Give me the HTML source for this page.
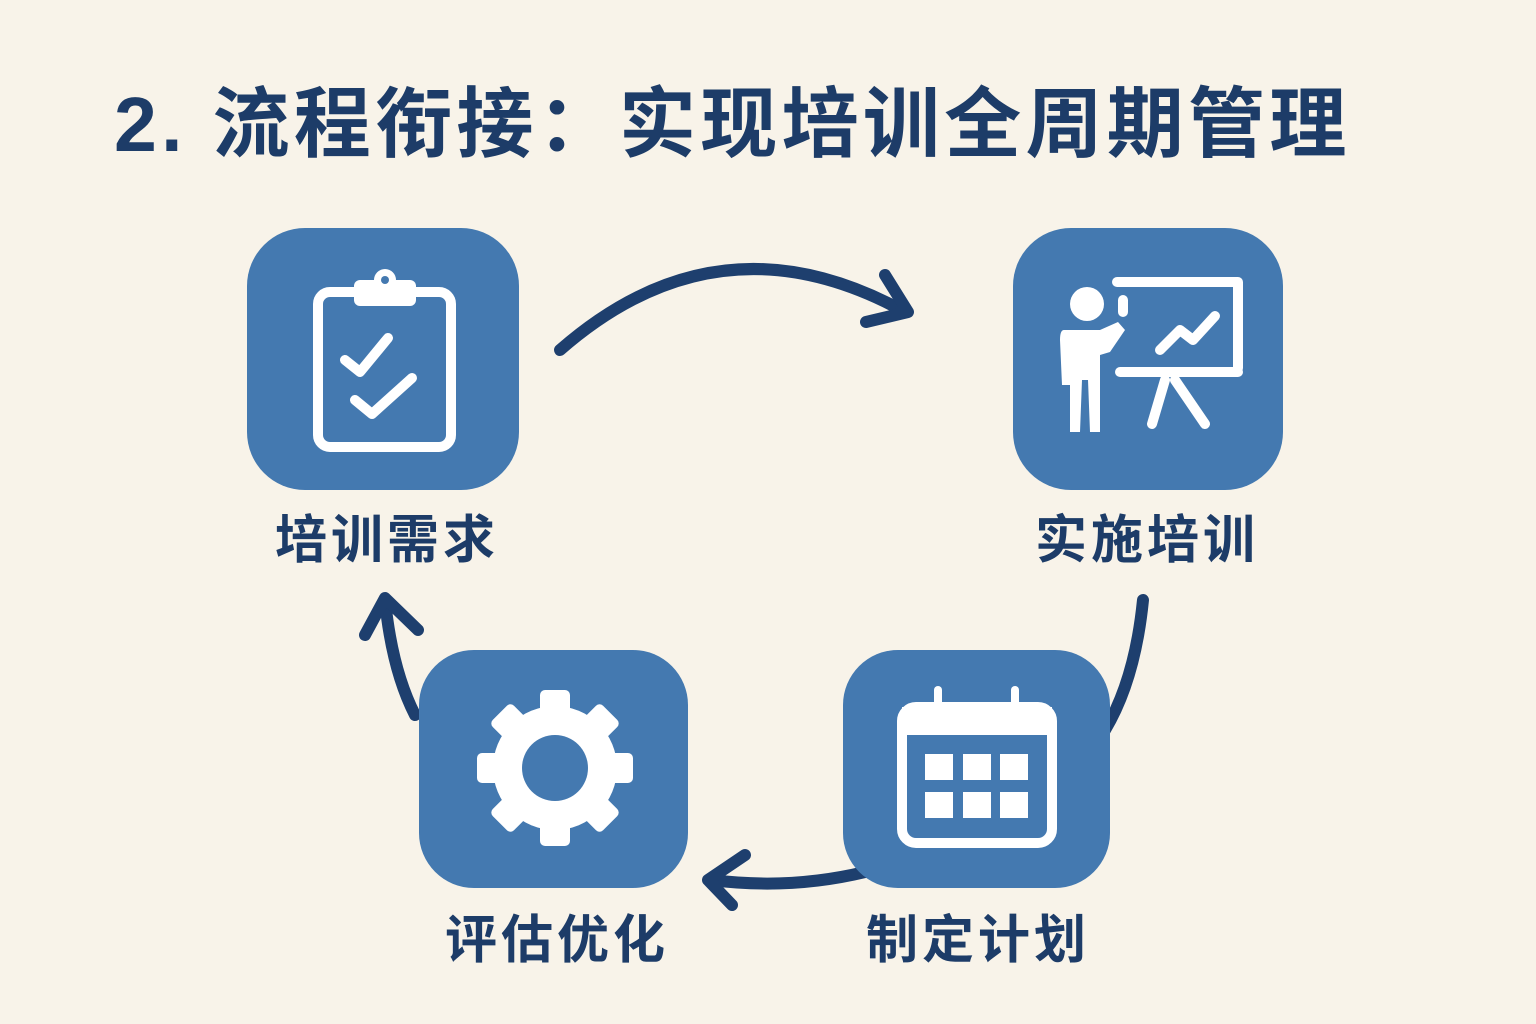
<!DOCTYPE html>
<html><head><meta charset="utf-8"><style>
html,body{margin:0;padding:0;width:1536px;height:1024px;background:#f8f3e9;overflow:hidden}
svg{display:block}
text{font-family:"Liberation Sans","Noto Sans CJK SC",sans-serif;font-weight:bold;fill:#1d3c68}
</style></head><body>
<svg width="1536" height="1024" viewBox="0 0 1536 1024">
<text x="114" y="151" font-size="77" letter-spacing="4.3">2. 流程衔接：实现培训全周期管理</text>
<g fill="none" stroke="#1e3f6e" stroke-width="12" stroke-linecap="round" stroke-linejoin="round">
<path d="M560 350 Q720 210 905 312"/><path d="M866 322 L908 312 L885 275"/>
<path d="M1143 600 Q1135 680 1105 730"/>
<path d="M865 872 Q790 890 712 880"/><path d="M745 855 L708 880 L732 905"/>
<path d="M415 715 Q392 670 385 600"/><path d="M365 635 L385 598 L418 630"/>
</g>
<g fill="#4479b0">
<rect x="247" y="228" width="272" height="262" rx="58"/>
<rect x="1013" y="228" width="270" height="262" rx="58"/>
<rect x="419" y="650" width="269" height="238" rx="55"/>
<rect x="843" y="650" width="267" height="238" rx="55"/>
</g>
<g fill="none" stroke="#fff" stroke-width="10" stroke-linecap="round" stroke-linejoin="round">
<rect x="318" y="292" width="133" height="155" rx="12"/>
<path d="M345 360 L360 372 L388 338"/><path d="M355 400 L372 414 L412 378"/>
</g>
<rect x="354" y="280" width="62" height="26" rx="6" fill="#fff"/>
<circle cx="385" cy="280" r="11" fill="#fff"/><circle cx="385" cy="280" r="4" fill="#4479b0"/>
<g fill="none" stroke="#fff" stroke-width="10" stroke-linecap="round" stroke-linejoin="round">
<path d="M1117 282 L1238 282 L1238 368"/><path d="M1120 372 L1238 372"/>
<path d="M1123 300 L1123 312"/>
<path d="M1160 350 L1180 330 L1193 340 L1215 316"/>
<path d="M1165 380 L1152 424"/><path d="M1175 380 L1205 424"/>
</g>
<circle cx="1087" cy="304" r="17" fill="#fff"/>
<path d="M1064 330 L1100 330 L1118 322 L1125 330 L1110 352 L1100 355 L1100 432 L1090 432 L1088 380 L1082 380 L1080 432 L1070 432 L1070 385 L1062 385 L1060 340 Q1060 330 1064 330Z" fill="#fff"/>
<g transform="translate(555,768)" fill="#fff">
<circle r="62"/>
<g id="t"><rect x="-15" y="-78" width="30" height="30" rx="5"/></g>
<use href="#t" transform="rotate(45)"/><use href="#t" transform="rotate(90)"/><use href="#t" transform="rotate(135)"/>
<use href="#t" transform="rotate(180)"/><use href="#t" transform="rotate(225)"/><use href="#t" transform="rotate(270)"/><use href="#t" transform="rotate(315)"/>
<circle r="33" fill="#4479b0"/>
</g>
<rect x="902" y="707" width="150" height="136" rx="14" fill="none" stroke="#fff" stroke-width="10"/>
<rect x="902" y="707" width="150" height="28" fill="#fff"/>
<g fill="#4479b0" stroke="#fff" stroke-width="8" stroke-linecap="round"><path d="M938 690 L938 716"/><path d="M1015 690 L1015 716"/></g>
<g fill="#fff">
<rect x="925" y="754" width="28" height="26"/><rect x="963" y="754" width="28" height="26"/><rect x="1000" y="754" width="28" height="26"/>
<rect x="925" y="792" width="28" height="26"/><rect x="963" y="792" width="28" height="26"/><rect x="1000" y="792" width="28" height="26"/>
</g>
<g font-size="52" text-anchor="middle" letter-spacing="4">
<text x="387" y="558">培训需求</text>
<text x="1147" y="558">实施培训</text>
<text x="557" y="958">评估优化</text>
<text x="978" y="958">制定计划</text>
</g>
</svg>
</body></html>
